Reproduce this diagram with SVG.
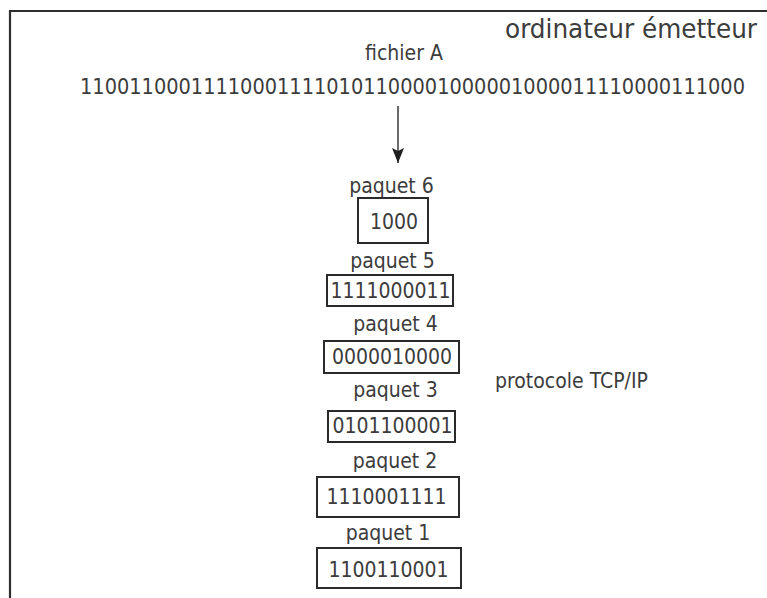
<svg xmlns="http://www.w3.org/2000/svg" width="767" height="598" viewBox="0 0 767 598">
<style>
text{font-family:"DejaVu Sans Condensed","DejaVu Sans","Liberation Sans",sans-serif;font-stretch:condensed;fill:#3c3c3c;font-size:21px}
.lbl{text-anchor:middle}
.box{fill:#fff;stroke:#2a2a2a;stroke-width:2}
.frame{fill:none;stroke:#2e2e2e;stroke-width:2.2}
</style>
<defs>
<marker id="ah" markerWidth="16" markerHeight="12" refX="15" refY="6" orient="auto" markerUnits="userSpaceOnUse" viewBox="0 0 16 12">
<path d="M0,0 L15,6 L0,12 L3,6 Z" fill="#1e1e1e"/>
</marker>
</defs>
<rect width="767" height="598" fill="#fff"/>
<path class="frame" d="M10,598 V11 H767"/>
<text x="505" y="38" style="font-size:27px" textLength="252" lengthAdjust="spacingAndGlyphs">ordinateur émetteur</text>
<text class="lbl" x="404" y="60">fichier A</text>
<text x="80" y="94" textLength="665" lengthAdjust="spacingAndGlyphs">110011000111100011110101100001000001000011110000111000</text>
<text x="495" y="388">protocole TCP/IP</text>
<g id="connectors">
<line x1="398" y1="106" x2="398" y2="163" stroke="#3a3a3a" stroke-width="1.5" marker-end="url(#ah)"/>
</g>
<g id="paquet6">
<text class="lbl" x="391.5" y="193">paquet 6</text>
<rect class="box" x="358" y="198" width="70" height="45"/>
<text class="lbl" x="394" y="229">1000</text>
</g>
<g id="paquet5">
<text class="lbl" x="392.5" y="268">paquet 5</text>
<rect class="box" x="327" y="275" width="126" height="31"/>
<text class="lbl" x="390.5" y="298">1111000011</text>
</g>
<g id="paquet4">
<text class="lbl" x="395.5" y="331">paquet 4</text>
<rect class="box" x="324" y="341" width="135" height="32"/>
<text class="lbl" x="392" y="364">0000010000</text>
</g>
<g id="paquet3">
<text class="lbl" x="395.5" y="397">paquet 3</text>
<rect class="box" x="328" y="411" width="127" height="31"/>
<text class="lbl" x="392.5" y="433">0101100001</text>
</g>
<g id="paquet2">
<text class="lbl" x="395" y="468">paquet 2</text>
<rect class="box" x="317" y="477" width="142" height="40"/>
<text class="lbl" x="386.5" y="504">1110001111</text>
</g>
<g id="paquet1">
<text class="lbl" x="388" y="540">paquet 1</text>
<rect class="box" x="317" y="548" width="144" height="40"/>
<text class="lbl" x="388.5" y="577">1100110001</text>
</g>
</svg>
